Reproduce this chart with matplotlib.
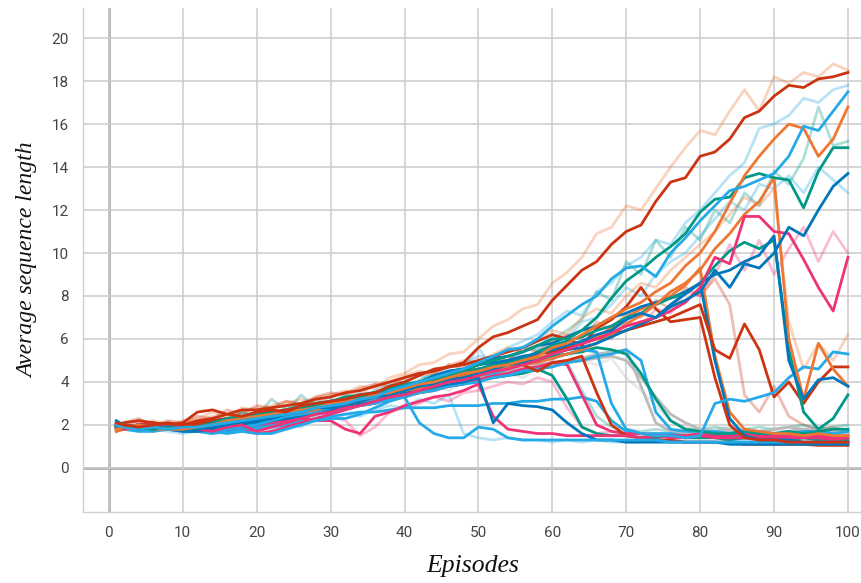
import matplotlib
matplotlib.use("Agg")
import matplotlib.pyplot as plt

# episodes sampled every second step
episodes = [1] + list(range(2, 101, 2))

ORANGE = "#EE7733"
BLUE = "#0077BB"
CYAN = "#25AAE8"
MAGENTA = "#EE3377"
RED = "#CC3311"
TEAL = "#009988"
GREY = "#BBBBBB"

# faded runs (drawn underneath)
faded_salmon_top = [1.9, 2.0, 2.2, 2.1, 2.0, 2.2,
                    2.3, 2.6, 2.4, 2.8, 2.7, 2.9, 3.1, 2.9, 3.3, 3.4,
                    3.5, 3.8, 3.7, 4.2, 4.4, 4.8, 4.9, 5.3, 5.4, 6.0,
                    6.6, 6.9, 7.4, 7.6, 8.6, 9.1, 9.8, 10.9, 11.2, 12.2,
                    12.0, 13.0, 14.0, 14.9, 15.7, 15.5, 16.6, 17.6, 16.6, 18.2,
                    17.9, 18.4, 18.2, 18.8, 18.5]
faded_pink_mid = [1.9, 2.0, 2.1, 1.9, 2.0, 1.8,
                  2.0, 1.8, 2.1, 1.9, 2.2, 2.0, 2.3, 2.5, 2.4, 2.8,
                  2.9, 3.2, 3.0, 3.5, 3.4, 3.8, 3.7, 4.1, 4.3, 4.1,
                  4.6, 4.8, 4.6, 5.2, 5.0, 5.6, 5.5, 6.2, 6.0, 6.8,
                  6.6, 7.4, 7.2, 8.2, 8.0, 9.0, 10.4, 9.2, 10.6, 9.0,
                  10.2, 11.2, 9.6, 11.0, 10.0]
faded_cyan_top = [2.1, 2.0, 1.8, 2.0, 1.9, 1.7,
                  1.9, 2.2, 2.0, 2.3, 2.5, 2.4, 2.8, 2.6, 3.0, 3.2,
                  3.0, 3.5, 3.3, 3.8, 4.0, 4.3, 4.1, 4.7, 4.8, 5.2,
                  5.1, 5.6, 5.9, 6.2, 6.8, 7.3, 7.1, 8.2, 8.6, 9.4,
                  9.8, 10.6, 10.4, 11.4, 12.0, 12.8, 13.6, 14.2, 15.8, 16.0,
                  16.4, 17.2, 17.0, 17.6, 17.8]
faded_cyan_mid = [1.8, 1.9, 2.0, 1.8, 2.0, 1.9,
                  1.8, 2.0, 2.2, 2.0, 2.3, 2.5, 2.3, 2.7, 2.8, 2.6,
                  3.1, 3.0, 3.4, 3.6, 3.5, 3.9, 4.2, 4.0, 4.6, 5.6,
                  4.6, 5.0, 5.4, 5.6, 6.2, 6.0, 6.8, 7.0, 7.6, 8.4,
                  8.0, 9.0, 9.6, 10.0, 10.8, 11.6, 12.4, 12.0, 13.2, 13.0,
                  13.6, 12.8, 14.0, 13.4, 12.8]
faded_teal_top = [1.9, 1.8, 1.9, 2.1, 1.9, 2.0,
                  2.1, 2.3, 2.2, 2.6, 2.4, 3.2, 2.7, 2.9, 3.1, 3.0,
                  3.4, 3.3, 3.6, 3.9, 3.7, 4.1, 4.4, 4.2, 4.6, 4.8,
                  5.1, 5.0, 5.6, 5.5, 6.0, 6.4, 6.9, 8.2, 7.8, 9.6,
                  9.0, 10.6, 9.8, 11.2, 10.6, 12.0, 11.4, 12.8, 12.2, 13.8,
                  13.2, 14.4, 16.8, 15.0, 15.2]
faded_orange_drop = [1.8, 1.9, 2.0, 2.2, 2.0, 2.1,
                     2.2, 2.4, 2.3, 2.6, 2.8, 2.7, 3.0, 3.2, 3.0, 3.4,
                     3.6, 3.4, 3.9, 4.0, 4.3, 4.5, 4.4, 4.8, 5.0, 4.9,
                     5.3, 5.6, 5.4, 6.0, 6.4, 6.2, 7.0, 7.4, 7.2, 8.0,
                     8.6, 8.4, 9.2, 9.8, 10.4, 11.0, 11.8, 12.6, 12.2, 13.0,
                     6.8, 4.6, 5.8, 5.0, 6.2]
faded_grey_drop = [1.9, 2.0, 1.9, 2.0, 1.8, 1.9,
                   2.0, 2.1, 2.2, 2.1, 2.3, 2.5, 2.4, 2.6, 2.8, 2.7,
                   3.0, 3.1, 3.3, 3.2, 3.5, 3.7, 3.8, 3.6, 4.0, 4.1,
                   4.3, 4.4, 4.2, 4.6, 4.7, 4.9, 5.0, 4.8, 5.1, 4.2,
                   3.6, 2.9, 2.2, 1.9, 1.8, 1.8, 1.9, 1.8, 1.7, 1.8,
                   1.7, 1.8, 1.9, 1.8, 1.7]
faded_cyan_low = [2.0, 1.9, 1.7, 1.8, 1.7, 1.6,
                  1.7, 1.6, 1.8, 1.7, 1.9, 1.8, 2.1, 1.9, 2.3, 2.2,
                  2.5, 2.4, 2.7, 2.9, 2.8, 3.2, 3.0, 3.4, 1.6, 1.4,
                  1.3, 1.4, 1.3, 1.3, 1.2, 1.3, 1.2, 1.3, 1.2, 1.2,
                  1.2, 1.3, 1.2, 1.2, 1.2, 1.2, 1.2, 1.3, 1.2, 1.2,
                  1.2, 1.2, 1.2, 1.3, 1.2]
faded_salmon_mid = [2.0, 2.1, 2.3, 2.0, 2.2, 2.1,
                    2.4, 2.3, 2.7, 2.5, 2.9, 2.8, 3.1, 3.0, 3.3, 3.5,
                    3.4, 3.7, 3.9, 3.8, 4.2, 4.4, 4.3, 4.8, 4.6, 5.0,
                    5.2, 5.0, 5.6, 5.4, 5.9, 6.2, 6.0, 6.8, 6.4, 7.2,
                    7.0, 7.8, 7.4, 8.4, 8.0, 8.8, 7.6, 3.4, 2.6, 3.8,
                    2.4, 2.0, 1.8, 1.9, 1.7]
faded_teal_low = [1.9, 2.0, 1.9, 2.0, 2.1, 1.9,
                  2.0, 2.2, 2.1, 2.6, 2.3, 2.5, 2.6, 3.4, 2.8, 2.9,
                  3.0, 3.2, 3.1, 3.4, 3.6, 3.5, 3.8, 3.9, 4.1, 4.0,
                  4.3, 4.4, 4.6, 4.5, 4.8, 4.9, 3.6, 2.4, 1.9, 1.8,
                  1.7, 1.8, 1.7, 1.8, 1.8, 1.9, 1.8, 1.8, 1.9, 1.8,
                  1.9, 2.0, 1.8, 1.9, 2.0]
faded_pink_low = [1.8, 1.9, 2.0, 1.7, 1.9, 1.8,
                  1.9, 1.7, 1.8, 2.0, 1.9, 2.1, 2.0, 2.3, 2.2, 2.4,
                  2.2, 1.5, 1.9, 2.6, 2.8, 3.0, 3.3, 3.1, 3.5, 3.6,
                  3.8, 4.0, 3.9, 4.2, 4.0, 2.8, 1.9, 1.6, 1.7, 1.6,
                  1.5, 1.6, 1.5, 1.6, 1.5, 1.6, 1.5, 1.6, 1.5, 1.6,
                  1.5, 1.6, 1.5, 1.6, 1.5]

# solid runs
red_top = [2.1, 2.0, 1.9, 2.0, 2.1, 2.0,
           2.2, 2.3, 2.5, 2.4, 2.6, 2.7, 2.6, 2.9, 3.0, 3.1,
           3.2, 3.4, 3.5, 3.8, 4.0, 4.3, 4.6, 4.7, 4.9, 5.6,
           6.1, 6.3, 6.6, 6.9, 7.8, 8.5, 9.2, 9.6, 10.4, 11.0,
           11.3, 12.4, 13.3, 13.5, 14.5, 14.7, 15.3, 16.3, 16.6, 17.3,
           17.8, 17.7, 18.1, 18.2, 18.4]
cyan_up = [2.0, 1.9, 1.8, 1.9, 1.8, 1.9,
           1.9, 2.0, 2.1, 2.2, 2.3, 2.4, 2.5, 2.6, 2.8, 2.9,
           3.0, 3.2, 3.3, 3.6, 3.8, 4.0, 4.2, 4.4, 4.6, 4.9,
           5.2, 5.5, 5.6, 6.0, 6.6, 7.1, 7.6, 8.0, 8.8, 9.3,
           9.4, 8.9, 10.0, 10.7, 11.5, 12.2, 12.9, 13.1, 13.4, 13.7,
           14.5, 15.9, 15.7, 16.6, 17.5]
orange_up = [1.8, 1.9, 2.0, 1.9, 1.8, 1.8,
             1.9, 2.0, 2.2, 2.3, 2.4, 2.5, 2.6, 2.7, 2.8, 3.0,
             3.1, 3.2, 3.4, 3.5, 3.7, 3.9, 4.0, 4.2, 4.4, 4.5,
             4.7, 4.8, 5.0, 5.2, 5.6, 5.8, 6.2, 6.6, 7.0, 7.4,
             7.7, 8.2, 8.6, 9.4, 10.0, 11.0, 12.3, 13.6, 14.5, 15.3,
             16.0, 15.8, 14.5, 15.3, 16.8]
teal_up = [1.9, 2.0, 1.9, 1.8, 1.9, 1.8,
           1.9, 2.1, 2.3, 2.4, 2.5, 2.6, 2.6, 2.8, 2.9, 3.1,
           3.2, 3.3, 3.5, 3.7, 3.8, 4.0, 4.1, 4.3, 4.5, 4.8,
           5.0, 5.2, 5.4, 5.7, 6.0, 6.0, 6.4, 7.0, 7.9, 8.7,
           9.2, 9.8, 10.3, 10.9, 11.9, 12.5, 12.6, 13.5, 13.7, 13.5,
           13.4, 12.1, 13.8, 14.9, 14.9]
blue_up = [2.0, 1.9, 2.0, 1.9, 1.9, 1.8,
           1.8, 1.9, 2.0, 2.2, 2.3, 2.5, 2.6, 2.7, 2.9, 3.0,
           3.1, 3.2, 3.4, 3.6, 3.7, 3.9, 4.2, 4.5, 4.6, 4.8,
           4.9, 5.0, 5.2, 5.3, 5.5, 5.7, 5.9, 6.2, 6.4, 6.9,
           7.2, 7.0, 7.5, 7.8, 8.2, 9.2, 8.4, 9.5, 9.3, 10.0,
           11.2, 10.8, 12.0, 13.1, 13.7]
magenta_high = [1.9, 1.8, 2.0, 2.0, 1.9, 1.9,
                1.8, 1.7, 1.9, 2.0, 1.7, 1.9, 2.1, 2.3, 2.5, 2.6,
                2.8, 2.9, 3.1, 3.3, 3.4, 3.6, 3.8, 4.0, 4.1, 4.3,
                4.5, 4.6, 4.8, 5.0, 5.3, 5.5, 5.8, 6.0, 6.3, 6.6,
                6.8, 7.0, 7.3, 7.7, 8.4, 9.8, 9.5, 11.7, 11.7, 11.0,
                10.9, 9.7, 8.4, 7.3, 9.8]
blue_spike90 = [1.9, 2.0, 1.8, 1.9, 1.8, 1.8,
                1.7, 1.8, 1.9, 2.1, 2.2, 2.3, 2.5, 2.6, 2.8, 2.8,
                3.0, 3.1, 3.3, 3.4, 3.6, 3.8, 3.9, 4.1, 4.2, 4.4,
                4.6, 4.8, 4.9, 5.0, 5.3, 5.5, 5.6, 5.8, 6.1, 6.4,
                6.7, 7.0, 7.6, 8.1, 8.6, 9.0, 9.2, 9.6, 9.9, 10.8,
                5.0, 3.2, 4.1, 4.2, 3.8]
orange_spike90 = [1.7, 1.8, 1.9, 1.9, 1.8, 1.8,
                  1.9, 2.0, 2.1, 2.2, 2.3, 2.4, 2.5, 2.6, 2.7, 2.9,
                  3.0, 3.1, 3.3, 3.4, 3.6, 3.7, 3.9, 4.0, 4.2, 4.3,
                  4.5, 4.6, 4.8, 4.9, 5.1, 5.3, 5.5, 5.8, 6.2, 6.7,
                  7.1, 7.6, 8.2, 8.6, 9.2, 10.2, 10.9, 11.8, 12.4, 13.5,
                  6.0, 3.2, 5.8, 4.6, 3.8]
teal_spike90 = [1.9, 1.9, 1.9, 1.8, 1.9, 1.9,
                1.8, 2.0, 2.2, 2.3, 2.4, 2.4, 2.6, 2.7, 2.9, 3.0,
                3.2, 3.3, 3.4, 3.6, 3.8, 3.9, 4.1, 4.3, 4.4, 4.6,
                4.8, 4.9, 5.1, 5.4, 5.7, 5.9, 6.1, 6.4, 6.6, 7.0,
                7.2, 7.6, 7.9, 8.1, 8.6, 9.4, 10.1, 10.5, 10.2, 10.6,
                5.5, 2.6, 1.8, 2.3, 3.4]
red_mid = [2.0, 2.1, 2.2, 2.1, 2.0, 2.1,
           2.6, 2.7, 2.5, 2.7, 2.7, 2.8, 2.9, 3.0, 3.2, 3.3,
           3.5, 3.6, 3.8, 4.0, 4.2, 4.4, 4.5, 4.7, 4.8, 5.0,
           5.2, 5.4, 5.6, 5.9, 6.2, 6.0, 5.7, 6.5, 6.9, 7.5,
           8.4, 7.4, 6.8, 6.9, 7.0, 4.2, 2.0, 1.4, 1.3, 1.3,
           1.2, 1.2, 1.2, 1.2, 1.2]
red_late = [2.0, 1.9, 2.0, 2.1, 2.0, 1.9,
            2.0, 2.2, 2.3, 2.3, 2.5, 2.6, 2.7, 2.8, 2.9, 3.1,
            3.2, 3.3, 3.5, 3.6, 3.8, 4.0, 4.1, 4.2, 4.4, 4.6,
            4.7, 4.9, 5.1, 5.3, 5.4, 5.6, 5.8, 6.0, 6.2, 6.4,
            6.6, 6.8, 7.0, 7.3, 7.6, 5.5, 5.1, 6.7, 5.5, 3.3,
            4.0, 3.0, 4.0, 4.7, 4.7]
cyan_late = [2.1, 2.0, 1.9, 1.9, 1.8, 1.8,
             1.7, 1.7, 1.8, 1.9, 2.0, 2.2, 2.4, 2.5, 2.6, 2.8,
             3.0, 3.1, 3.2, 3.4, 3.6, 3.8, 3.9, 4.0, 4.1, 4.3,
             4.4, 4.6, 4.8, 5.0, 5.1, 5.3, 5.5, 5.4, 3.0, 1.8,
             1.6, 1.5, 1.5, 1.4, 1.5, 3.0, 3.2, 3.1, 3.3, 3.5,
             4.2, 4.7, 4.6, 5.4, 5.3]
blue_drop80 = [1.8, 1.9, 1.9, 2.0, 1.8, 1.7,
               1.7, 1.8, 1.8, 2.0, 2.1, 2.2, 2.4, 2.6, 2.8, 2.9,
               3.1, 3.3, 3.4, 3.6, 3.8, 4.0, 4.3, 4.5, 4.6, 4.9,
               5.1, 5.2, 5.4, 5.7, 5.8, 6.1, 6.4, 6.6, 7.0, 7.2,
               7.5, 7.7, 7.9, 8.2, 8.6, 5.0, 2.3, 1.5, 1.3, 1.3,
               1.3, 1.2, 1.2, 1.2, 1.2]
orange_drop80 = [1.7, 1.8, 1.9, 1.8, 1.8, 1.8,
                 1.9, 2.0, 2.2, 2.3, 2.4, 2.5, 2.6, 2.7, 2.9, 3.0,
                 3.1, 3.3, 3.4, 3.5, 3.7, 3.8, 4.0, 4.1, 4.3, 4.4,
                 4.6, 4.7, 4.9, 5.1, 5.3, 5.5, 5.8, 6.1, 6.5, 7.0,
                 7.4, 7.6, 8.0, 8.5, 9.3, 5.2, 2.6, 1.8, 1.7, 1.6,
                 1.6, 1.5, 1.6, 1.5, 1.5]
teal_drop62 = [2.0, 1.9, 1.8, 1.9, 2.0, 1.8,
               1.9, 2.0, 2.1, 2.3, 2.2, 2.4, 2.5, 2.6, 2.7, 2.9,
               3.0, 3.1, 3.2, 3.3, 3.5, 3.6, 3.7, 3.8, 4.0, 4.1,
               4.2, 4.3, 4.4, 4.6, 4.3, 3.2, 1.9, 1.6, 1.5, 1.5,
               1.4, 1.4, 1.5, 1.4, 1.4, 1.4, 1.3, 1.4, 1.4, 1.3,
               1.3, 1.4, 1.3, 1.3, 1.3]
magenta_drop64 = [1.9, 2.0, 1.9, 2.0, 1.9, 1.9,
                  1.8, 1.9, 2.0, 1.8, 1.6, 1.7, 1.9, 2.1, 2.3, 2.5,
                  2.7, 2.9, 3.0, 3.2, 3.3, 3.5, 3.6, 3.8, 3.9, 4.1,
                  4.3, 4.4, 4.6, 4.7, 4.9, 4.8, 3.4, 2.0, 1.7, 1.6,
                  1.6, 1.5, 1.5, 1.5, 1.6, 1.5, 1.5, 1.6, 1.5, 1.5,
                  1.5, 1.5, 1.5, 1.4, 1.5]
grey_drop70 = [1.9, 1.9, 1.9, 1.8, 1.9, 1.9,
               1.9, 2.0, 2.1, 2.2, 2.2, 2.4, 2.5, 2.5, 2.7, 2.8,
               3.0, 3.1, 3.2, 3.4, 3.5, 3.6, 3.8, 3.9, 4.0, 4.2,
               4.3, 4.5, 4.6, 4.8, 4.9, 5.0, 5.1, 5.3, 5.4, 5.5,
               3.8, 2.1, 1.7, 1.6, 1.7, 1.6, 1.7, 1.6, 1.7, 1.6,
               1.7, 1.8, 1.7, 1.7, 1.6]
cyan_drop72 = [1.9, 1.8, 1.8, 1.9, 1.9, 1.8,
               1.8, 1.7, 1.7, 1.8, 1.9, 2.0, 2.1, 2.3, 2.5, 2.6,
               2.8, 2.9, 3.0, 3.2, 3.3, 3.5, 3.6, 3.8, 3.9, 4.0,
               4.2, 4.3, 4.5, 4.6, 4.7, 4.9, 5.0, 5.2, 5.3, 5.5,
               5.0, 2.6, 1.8, 1.7, 1.7, 1.7, 1.6, 1.7, 1.7, 1.6,
               1.6, 1.7, 1.7, 1.6, 1.7]
teal_drop75 = [1.8, 1.9, 2.0, 1.9, 1.8, 1.9,
               2.0, 2.1, 2.3, 2.4, 2.6, 2.6, 2.7, 2.9, 3.0, 3.1,
               3.3, 3.4, 3.5, 3.7, 3.9, 4.0, 4.2, 4.3, 4.5, 4.6,
               4.7, 4.8, 5.0, 5.1, 5.2, 5.3, 5.4, 5.6, 5.5, 5.3,
               4.4, 3.2, 2.2, 1.8, 1.7, 1.6, 1.6, 1.7, 1.6, 1.6,
               1.7, 1.6, 1.7, 1.8, 1.8]
magenta_spike52 = [2.0, 1.9, 1.9, 1.8, 1.9, 1.8,
                   1.7, 1.7, 1.8, 1.9, 2.0, 2.1, 2.2, 2.3, 2.2, 2.2,
                   1.8, 1.6, 2.4, 2.6, 2.9, 3.1, 3.3, 3.4, 3.6, 3.9,
                   2.4, 1.8, 1.7, 1.6, 1.6, 1.5, 1.5, 1.5, 1.5, 1.5,
                   1.4, 1.5, 1.4, 1.4, 1.5, 1.4, 1.4, 1.4, 1.4, 1.4,
                   1.4, 1.4, 1.4, 1.3, 1.4]
blue_spike50 = [2.2, 2.0, 1.9, 1.9, 1.8, 1.8,
                1.7, 1.7, 1.8, 1.9, 2.0, 2.2, 2.3, 2.4, 2.6, 2.7,
                2.9, 3.0, 3.2, 3.4, 3.5, 3.7, 3.8, 3.9, 4.0, 4.2,
                2.1, 3.0, 2.9, 2.85, 2.7, 2.1, 1.6, 1.3, 1.3, 1.2,
                1.2, 1.2, 1.2, 1.2, 1.2, 1.2, 1.1, 1.1, 1.1, 1.1,
                1.1, 1.1, 1.1, 1.1, 1.1]
cyan_low = [2.0, 1.9, 1.8, 1.8, 1.8, 1.8,
            1.7, 1.7, 1.6, 1.7, 1.6, 1.6, 1.8, 2.0, 2.2, 2.3,
            2.3, 2.5, 2.8, 3.1, 3.3, 2.1, 1.6, 1.4, 1.4, 1.9,
            1.8, 1.4, 1.3, 1.3, 1.3, 1.3, 1.3, 1.3, 1.3, 1.3,
            1.3, 1.3, 1.2, 1.2, 1.2, 1.2, 1.2, 1.2, 1.2, 1.2,
            1.2, 1.2, 1.2, 1.2, 1.2]
cyan_flat = [1.9, 1.8, 1.7, 1.7, 1.8, 1.7,
             1.7, 1.6, 1.7, 1.8, 1.8, 1.9, 2.0, 2.2, 2.3, 2.4,
             2.5, 2.6, 2.6, 2.7, 2.8, 2.8, 2.8, 2.9, 2.9, 2.9,
             3.0, 3.0, 3.1, 3.1, 3.2, 3.2, 3.3, 3.1, 2.2, 1.7,
             1.6, 1.6, 1.6, 1.5, 1.5, 1.5, 1.5, 1.5, 1.5, 1.4,
             1.4, 1.4, 1.4, 1.4, 1.4]
grey_drop78 = [1.9, 1.9, 1.8, 1.9, 1.9, 1.8,
               1.9, 2.0, 2.0, 2.2, 2.3, 2.4, 2.4, 2.6, 2.7, 2.8,
               2.9, 3.0, 3.2, 3.3, 3.4, 3.5, 3.7, 3.8, 3.9, 4.1,
               4.2, 4.4, 4.5, 4.6, 4.8, 4.9, 5.0, 5.1, 5.2, 5.0,
               4.2, 3.3, 2.5, 2.1, 1.8, 1.7, 1.8, 1.7, 1.7, 1.8,
               1.9, 1.8, 1.7, 1.6, 1.6]
red_low = [1.8, 1.9, 2.0, 2.0, 1.9, 2.0,
           2.1, 2.2, 2.2, 2.3, 2.4, 2.5, 2.5, 2.7, 2.8, 2.9,
           3.0, 3.2, 3.3, 3.5, 3.6, 3.8, 3.9, 4.1, 4.2, 4.4,
           4.6, 4.7, 4.8, 4.5, 4.9, 5.0, 5.2, 3.5, 2.0, 1.5,
           1.4, 1.3, 1.3, 1.2, 1.2, 1.2, 1.2, 1.1, 1.1, 1.1,
           1.1, 1.1, 1.05, 1.05, 1.05]

faded_runs = [
    (faded_salmon_top, ORANGE), (faded_pink_mid, MAGENTA),
    (faded_cyan_top, CYAN), (faded_cyan_mid, CYAN),
    (faded_teal_top, TEAL), (faded_orange_drop, ORANGE),
    (faded_grey_drop, GREY), (faded_cyan_low, CYAN),
    (faded_salmon_mid, RED), (faded_teal_low, TEAL),
    (faded_pink_low, MAGENTA),
]
solid_runs = [
    (grey_drop70, GREY), (grey_drop78, GREY),
    (cyan_flat, CYAN), (teal_drop62, TEAL), (magenta_drop64, MAGENTA),
    (cyan_drop72, CYAN), (teal_drop75, TEAL), (red_low, RED),
    (magenta_spike52, MAGENTA), (blue_spike50, BLUE), (cyan_low, CYAN),
    (orange_drop80, ORANGE), (blue_drop80, BLUE), (red_mid, RED),
    (red_late, RED), (cyan_late, CYAN), (teal_spike90, TEAL),
    (orange_spike90, ORANGE), (blue_spike90, BLUE), (magenta_high, MAGENTA),
    (blue_up, BLUE), (teal_up, TEAL), (orange_up, ORANGE),
    (cyan_up, CYAN), (red_top, RED),
]

fig = plt.figure(figsize=(8.62, 5.83), dpi=100)
ax = fig.add_axes([0.0963, 0.1218, 0.9037, 0.8645])

for vals, col in faded_runs:
    ax.plot(episodes, vals, color=col, alpha=0.32, lw=2.0, zorder=2)
for vals, col in solid_runs:
    ax.plot(episodes, vals, color=col, lw=2.0, zorder=3)

ax.set_xlim(-3.5, 101.9)
ax.set_ylim(-2.05, 21.4)
ax.set_xticks(range(0, 101, 10))
ax.set_yticks(range(0, 21, 2))
ax.grid(True, color="#cccccc", lw=1.1, zorder=0)
ax.axhline(0, color="#9e9e9e", lw=1.8, zorder=1)
ax.axvline(0, color="#9e9e9e", lw=1.8, zorder=1)

for side in ["top", "right"]:
    ax.spines[side].set_visible(False)
for side in ["left", "bottom"]:
    ax.spines[side].set_color("#d0d0d0")
    ax.spines[side].set_linewidth(1.0)

ax.tick_params(length=0, labelsize=11, labelcolor="#444444", pad=10)
for lab in ax.get_xticklabels() + ax.get_yticklabels():
    lab.set_family("Roboto")

ax.set_xlabel("Episodes", family="Liberation Serif", style="italic",
              fontsize=18.5, color="#111111", labelpad=11)
ax.set_ylabel("Average sequence length", family="Liberation Serif",
              style="italic", fontsize=17, color="#111111", labelpad=10)

fig.savefig("out.png", dpi=100)
